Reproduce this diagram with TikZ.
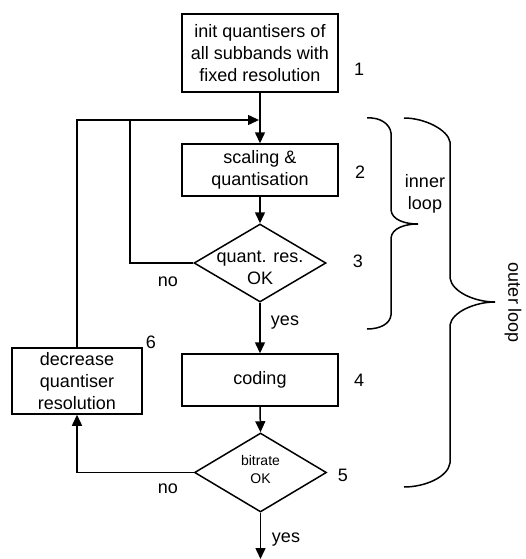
\documentclass[tikz,border=0pt]{standalone}
\usepackage{fontspec}
\setmainfont{Liberation Sans}
\usetikzlibrary{shapes.geometric,arrows.meta}
\begin{document}
\begin{tikzpicture}[x=1pt,y=-1pt,
  every node/.style={font=\fontsize{18}{21.6}\selectfont},
  line/.style={line width=1.5pt},
  arr/.style={line width=1.5pt,-{Triangle[length=11pt,width=10pt]}},
  box/.style={draw,line width=1.5pt,rectangle,inner sep=0pt,align=center},
  dia/.style={draw,line width=1.5pt,diamond,inner sep=0pt,minimum width=132pt,minimum height=78pt},
  lbl/.style={inner sep=0pt}]
\useasboundingbox (0,0) rectangle (525,559);
% boxes
\node[box,minimum width=156pt,minimum height=78pt] (b1) at (260,53) {init quantisers of\\all subbands with\\fixed resolution};
\node[box,minimum width=156pt,minimum height=52pt] (b2) at (260,170) {scaling \&\\quantisation};
\node[dia] (d3) at (260,263) {};
\node[align=center,inner sep=0pt] (t3) at (260,268) {quant. res.\\OK};
\node[box,minimum width=156pt,minimum height=52pt] (b4) at (260,380) {coding};
\node[dia,minimum height=79pt] (d5) at (260.5,472.5) {};
\node[align=center,inner sep=0pt,font=\fontsize{14}{18}\selectfont] (t5) at (260.5,469) {bitrate\\OK};
\node[box,minimum width=130pt,minimum height=66pt] (b6) at (77,381) {decrease\\quantiser\\resolution};
% numbers
\node[lbl] (n1) at (359,69) {1};
\node[lbl] (n2) at (360,172) {2};
\node[lbl] (n3) at (358,261) {3};
\node[lbl] (n4) at (359,380) {4};
\node[lbl] (n5) at (343,475) {5};
\node[lbl] (n6) at (151,342) {6};
% labels
\node[lbl] (no3) at (168,282) {no};
\node[lbl] (yes3) at (285,323) {yes};
\node[lbl] (no5) at (168,489) {no};
\node[lbl] (yes5) at (286,540) {yes};
% coordinates
\coordinate (j) at (259,120);
\coordinate (k) at (130,120);
\coordinate (e) at (260.5,559);
% connectors
\draw[arr] (b1.south) -- (b2.north);
\draw[arr] (b6.north) |- (j);
\draw[line] (d3.west) -| (k);
\draw[arr] (b2.south) -- (d3.north);
\draw[arr] (d3.south) -- (b4.north);
\draw[arr] (b4.south) -- (d5.north);
\draw[arr] (d5.west) -| (b6.south);
\draw[arr] (d5.south) -- (e);
% inner brace
\draw[line] (367,118) .. controls (380,117) and (390,124) .. (391,133)
  -- (391,210) .. controls (392,220) and (405,224) .. (418,224)
  .. controls (405,224) and (392,228) .. (391,238)
  -- (391,315) .. controls (390,324) and (380,329) .. (367,329);
% outer brace
\draw[line] (404,118) .. controls (425,118) and (448,130) .. (450,142)
  -- (450,278) .. controls (452,292) and (475,302) .. (495,302)
  .. controls (475,302) and (452,312) .. (450,325)
  -- (450,463) .. controls (448,477) and (425,487) .. (404,487);
\node[align=center,inner sep=0pt] (il) at (425,194) {inner\\loop};
\node[rotate=-90,inner sep=0pt] (ol) at (513,303) {outer loop};
\end{tikzpicture}
\end{document}
